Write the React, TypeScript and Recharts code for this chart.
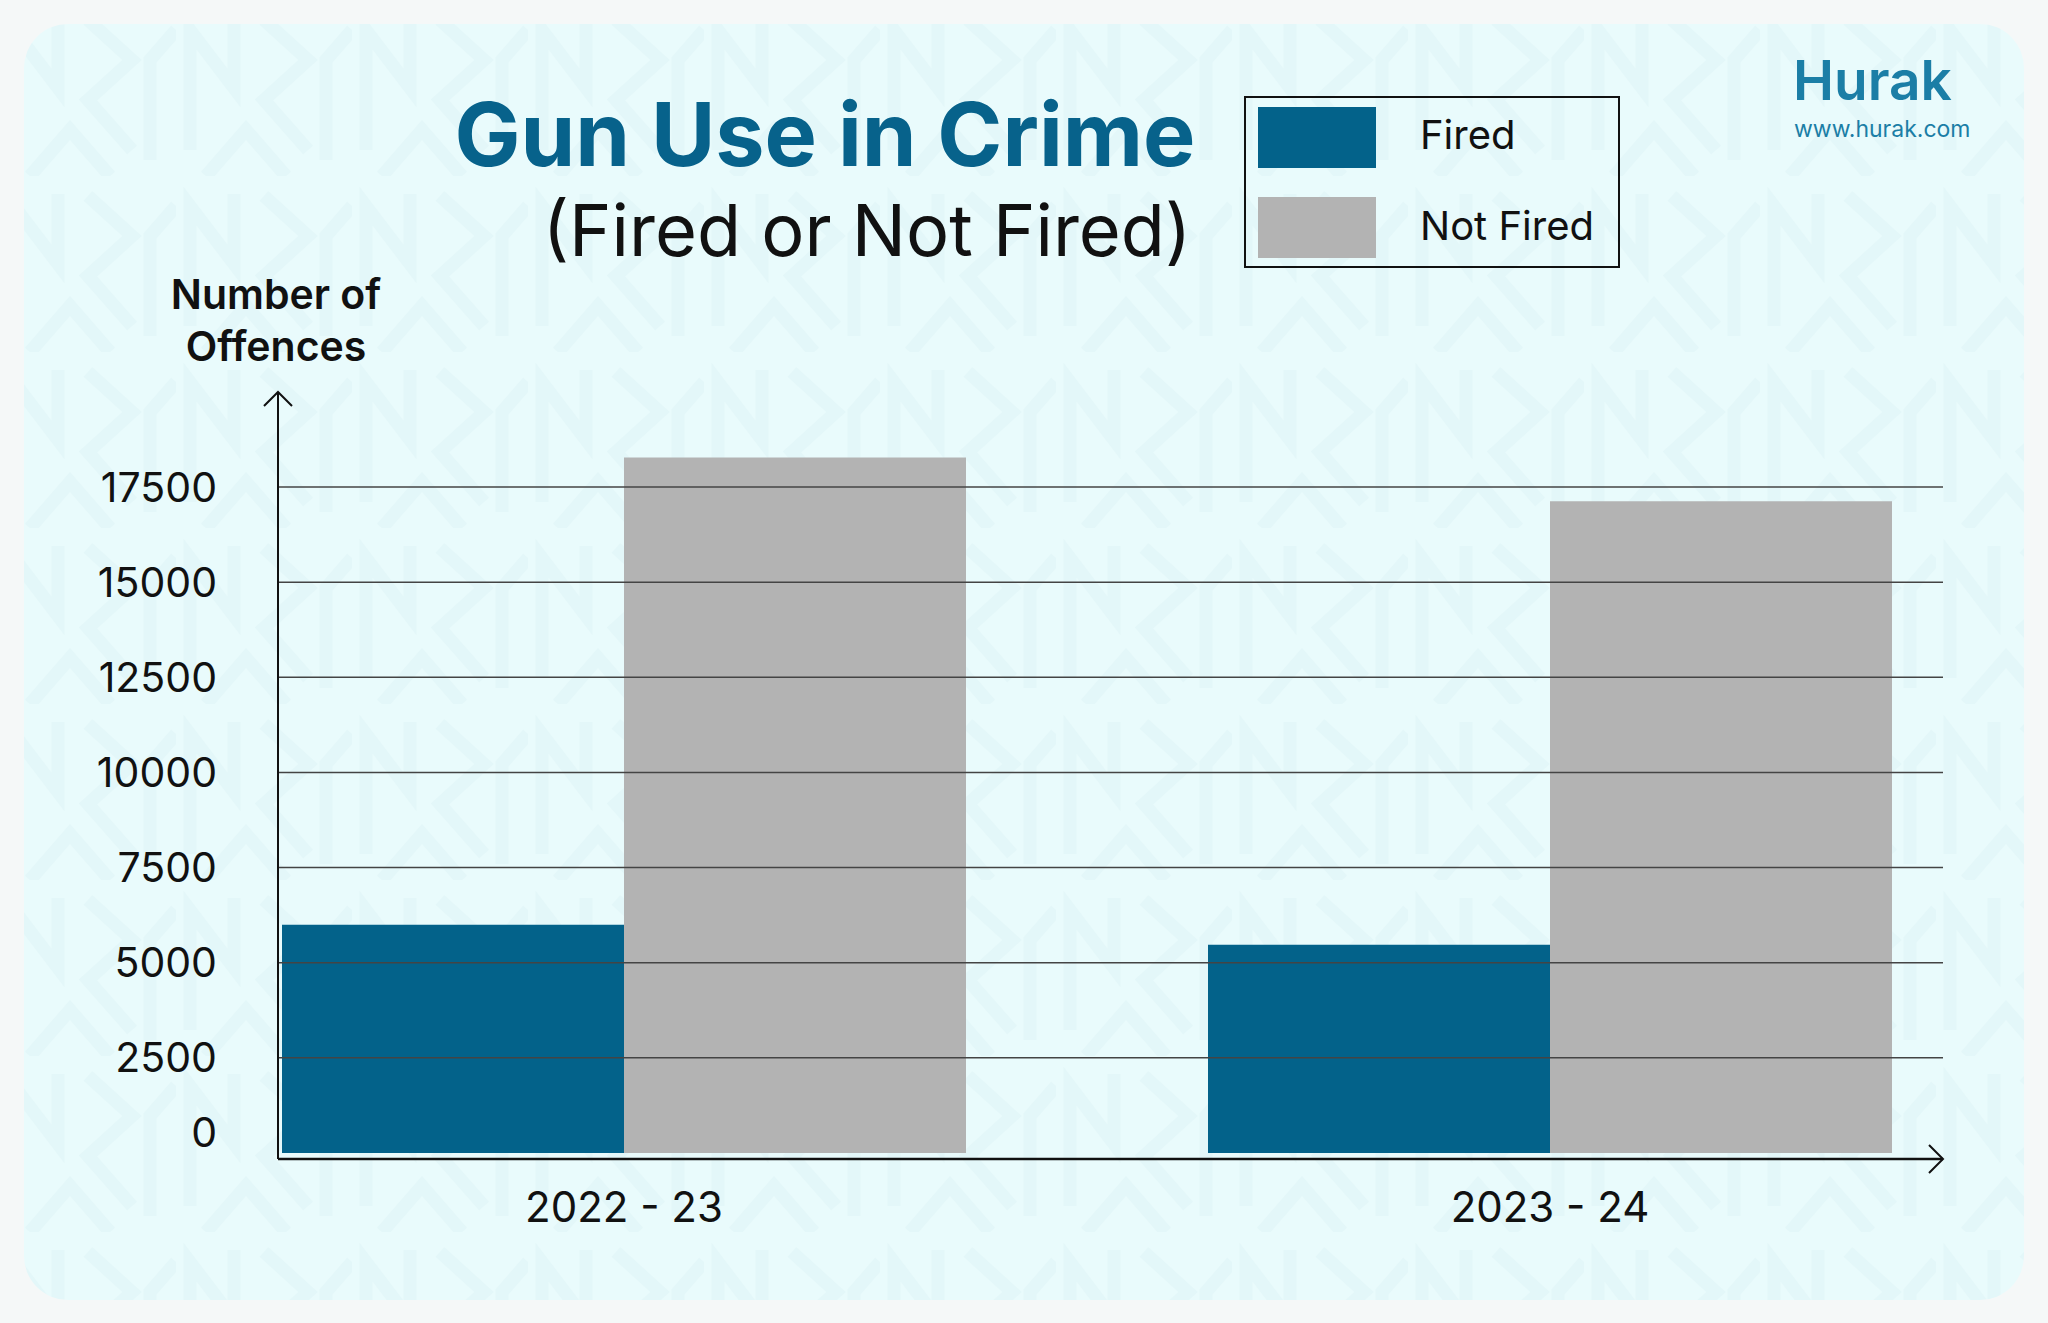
import React from "react";
import { BarChart, Bar, XAxis, YAxis, ReferenceLine, Legend } from "recharts";

const years = ["2022 - 23", "2023 - 24"];
const fired = [6000, 5470];
const notFired = [18280, 17130];
const yTicks = [0, 2500, 5000, 7500, 10000, 12500, 15000, 17500];

const data = years.map((year, i) => ({
  year,
  fired: fired[i],
  notFired: notFired[i],
}));

const BLUE = "#03628a";
const GREY = "#b3b3b3";

function YTick(props: any) {
  const { x, y, payload } = props;
  // the zero label sits a little above the baseline in the original
  const shift = payload.value === 0 ? -20 : 0;
  return (
    <text x={x} y={y + shift} dy="0.355em" textAnchor="end" fill="#111" fontSize={41}>
      {payload.value}
    </text>
  );
}

function LegendBox(props: any) {
  const items = props.payload || [];
  return (
    <div
      style={{
        position: "relative",
        width: 376,
        height: 172,
        boxSizing: "border-box",
        border: "2px solid #111",
      }}
    >
      {items.map((item: any, i: number) => (
        <React.Fragment key={item.value}>
          <div
            style={{
              position: "absolute",
              left: 12,
              top: 9 + i * 90,
              width: 118,
              height: 61,
              background: item.color,
            }}
          />
          <div
            style={{
              position: "absolute",
              left: 174,
              top: 17 + i * 91,
              fontSize: 40,
              lineHeight: 1,
              color: "#111",
              whiteSpace: "nowrap",
            }}
          >
            {item.value}
          </div>
        </React.Fragment>
      ))}
    </div>
  );
}

function Background() {
  return (
    <svg width={2048} height={1323} style={{ position: "absolute", left: 0, top: 0 }}>
      <defs>
        <pattern id="bgTile" width={176} height={176} patternUnits="userSpaceOnUse">
          <rect width={176} height={176} fill="#e9fbfc" />
          <g fill="none" stroke="#e3f7f9" strokeWidth={13} strokeLinejoin="miter">
            <path d="M14,150 L14,30 L58,88 L58,18" />
            <path d="M88,20 L132,60 L88,100 L132,150" />
            <path d="M150,160 L150,60 L176,30" />
            <path d="M30,176 L70,130 L110,176" />
          </g>
        </pattern>
        <marker
          id="axisArrow"
          viewBox="-17 -17 19 34"
          refX={0}
          refY={0}
          markerWidth={19}
          markerHeight={34}
          markerUnits="userSpaceOnUse"
          orient="auto-start-reverse"
        >
          <path d="M-14,-14 L0,0 L-14,14" fill="none" stroke="#111" strokeWidth={2} />
        </marker>
      </defs>
      <rect x={24} y={24} width={2000} height={1276} rx={44} fill="url(#bgTile)" />
    </svg>
  );
}

export default function App() {
  return (
    <div
      style={{
        position: "relative",
        width: 2048,
        height: 1323,
        background: "#f5f8f8",
        fontFamily: "Inter, 'Noto Sans', sans-serif",
        overflow: "hidden",
      }}
    >
      <style>{`body{margin:0}`}</style>
      <Background />

      <div style={{ position: "absolute", left: 0, top: 0 }}>
        <BarChart
          width={2048}
          height={1323}
          data={data}
          barGap={0}
          barSize={342}
          margin={{ top: 392, right: 105, bottom: 104, left: 78 }}
        >
          <XAxis
            dataKey="year"
            height={60}
            padding={{ left: -117, right: -70 }}
            tickLine={false}
            tickSize={0}
            tickMargin={33}
            axisLine={{ stroke: "#111", strokeWidth: 2.5, markerEnd: "url(#axisArrow)" }}
            tick={{ fill: "#111", fontSize: 42 }}
          />
          <YAxis
            width={200}
            domain={[-160, 20000]}
            ticks={yTicks}
            tickLine={false}
            tickSize={0}
            tickMargin={61}
            axisLine={{ stroke: "#111", strokeWidth: 2, markerStart: "url(#axisArrow)" }}
            tick={<YTick />}
          />
          <Bar dataKey="fired" name="Fired" fill={BLUE} isAnimationActive={false} />
          <Bar dataKey="notFired" name="Not Fired" fill={GREY} isAnimationActive={false} />
          {yTicks
            .filter((v) => v > 0)
            .map((v) => (
              <ReferenceLine key={v} y={v} stroke="#444" strokeWidth={1.5} />
            ))}
          <Legend
            layout="vertical"
            align="center"
            verticalAlign="middle"
            content={<LegendBox />}
            wrapperStyle={{ left: 1244, top: 96, width: 376, height: 172 }}
          />
        </BarChart>
      </div>

      {/* titles */}
      <div
        style={{
          position: "absolute",
          left: 325,
          top: 90,
          width: 1000,
          textAlign: "center",
          fontSize: 88,
          fontWeight: 700,
          lineHeight: 1,
          color: "#07628b",
          whiteSpace: "nowrap",
        }}
      >
        Gun Use in Crime
      </div>
      <div
        style={{
          position: "absolute",
          left: 367,
          top: 194,
          width: 1000,
          textAlign: "center",
          fontSize: 72,
          fontWeight: 400,
          lineHeight: 1,
          color: "#111",
          whiteSpace: "nowrap",
        }}
      >
        (Fired or Not Fired)
      </div>

      {/* y axis title */}
      <div
        style={{
          position: "absolute",
          left: 126,
          top: 268,
          width: 300,
          textAlign: "center",
          fontSize: 41,
          fontWeight: 600,
          lineHeight: "52px",
          color: "#111",
        }}
      >
        Number of
        <br />
        Offences
      </div>

      {/* brand */}
      <div
        style={{
          position: "absolute",
          left: 1793,
          top: 53,
          fontSize: 55,
          fontWeight: 600,
          lineHeight: 1,
          color: "#1b7ea6",
        }}
      >
        Hurak
      </div>
      <div
        style={{
          position: "absolute",
          left: 1794,
          top: 118,
          fontSize: 23,
          lineHeight: 1,
          color: "#1b7ea6",
        }}
      >
        www.hurak.com
      </div>
    </div>
  );
}
